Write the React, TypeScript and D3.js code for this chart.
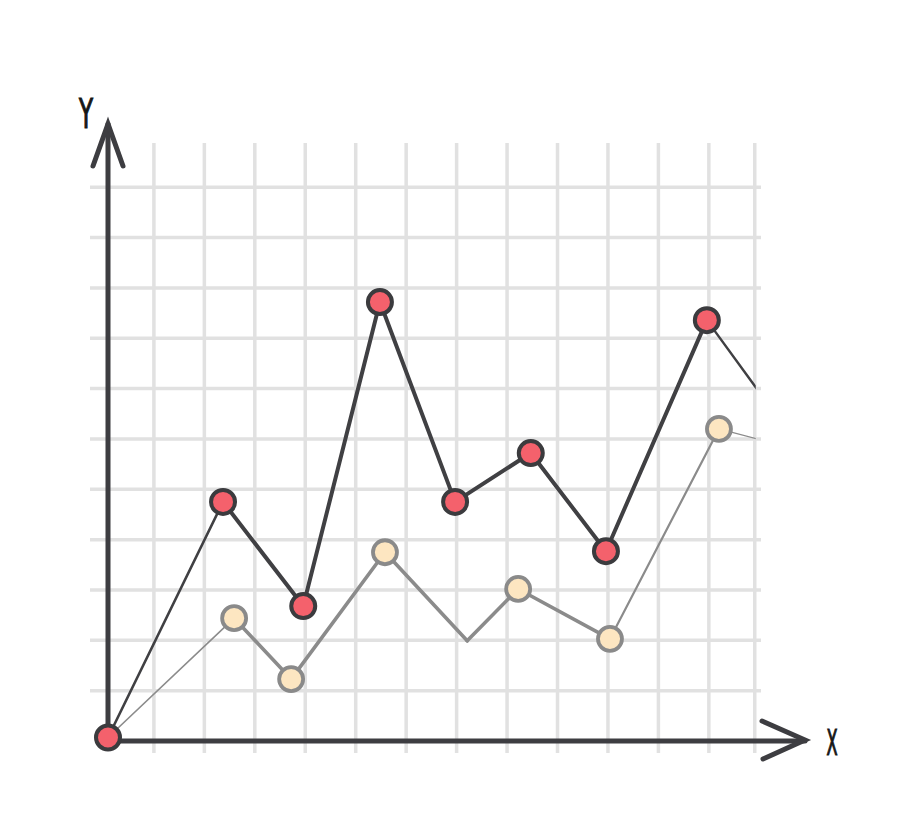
import React, { useEffect, useRef } from 'react';
import * as d3 from 'd3';

const WIDTH = 910;
const HEIGHT = 815;

// x / y values in grid units, origin at the axis corner
const redX = [0, 2.28, 3.87, 5.39, 6.88, 8.38, 9.87, 11.87, 13.2];
const redY = [0.07, 4.75, 2.68, 8.72, 4.75, 5.72, 3.77, 8.36, 6.53];
const creamX = [0, 2.5, 3.63, 5.49, 7.12, 8.13, 9.95, 12.11, 13.2];
const creamY = [0.07, 2.44, 1.23, 3.75, 1.99, 3.02, 2.03, 6.2, 5.91];
// which points carry a marker
const creamMarked = [false, true, true, true, false, true, true, true, false];
const redMarked = [true, true, true, true, true, true, true, true, false];

// grid lines (grid units)
const gridX = [0.91, 1.91, 2.91, 3.91, 4.91, 5.91, 6.91, 7.91, 8.91, 9.91, 10.91, 11.91, 12.82];
const gridY = [1, 2, 3, 4, 5, 6, 7, 8, 9, 10, 11];

class SketchChart {
  svg: any;

  constructor(containerEl: any) {
    this.svg = d3.select(containerEl).append('svg')
      .attr('width', WIDTH)
      .attr('height', HEIGHT)
      .style('position', 'absolute')
      .style('left', 0)
      .style('top', 0)
      .style('background', '#fff');
    this.draw();
  }

  draw = () => {
    const x = d3.scaleLinear().domain([0, 13]).range([108, 108 + 13 * 50.45]);
    const y = d3.scaleLinear().domain([0, 11]).range([741, 741 - 11 * 50.34]);
    const svg = this.svg;

    // grid
    const grid = svg.append('g').attr('stroke', '#e1e1e1').attr('stroke-width', 3.5);
    grid.selectAll('.gv').data(gridX).enter().append('line')
      .attr('x1', (d: number) => x(d)).attr('x2', (d: number) => x(d))
      .attr('y1', 143).attr('y2', 753);
    grid.selectAll('.gh').data(gridY).enter().append('line')
      .attr('x1', 90).attr('x2', 761)
      .attr('y1', (d: number) => y(d)).attr('y2', (d: number) => y(d));

    // clip lines at the grid's right edge
    svg.append('clipPath').attr('id', 'plotclip').append('rect')
      .attr('x', 0).attr('y', 0).attr('width', x(12.82) + 1).attr('height', HEIGHT);

    const drawSeries = (xs: number[], ys: number[], color: string, widths: number[]) => {
      const g = svg.append('g').attr('clip-path', 'url(#plotclip)');
      for (let i = 0; i < xs.length - 1; i++) {
        g.append('line')
          .attr('x1', x(xs[i])).attr('y1', y(ys[i]))
          .attr('x2', x(xs[i + 1])).attr('y2', y(ys[i + 1]))
          .attr('stroke', color)
          .attr('stroke-width', widths[i])
          .attr('stroke-linecap', 'round');
      }
    };

    drawSeries(creamX, creamY, '#8b8b8b', [1.6, 3.6, 3.6, 3.6, 3.6, 3.6, 2.2, 1.2]);
    drawSeries(redX, redY, '#404043', [2.6, 4, 4, 4, 4, 4, 4, 2.4]);

    // axes
    const axis = svg.append('g')
      .attr('stroke', '#3d3d41')
      .attr('stroke-width', 5)
      .attr('stroke-linecap', 'round')
      .attr('fill', 'none');
    axis.append('line').attr('x1', x(0)).attr('x2', x(0)).attr('y1', 124).attr('y2', y(0));
    axis.append('line').attr('x1', x(0)).attr('x2', 805).attr('y1', y(0)).attr('y2', y(0));
    axis.append('path').attr('d', 'M93,166 L108,124 L123,166').attr('stroke-linejoin', 'miter');
    axis.append('path').attr('d', 'M762,721 L805,740 L763,759').attr('stroke-linejoin', 'miter');

    // markers
    const creamPts = creamX.map((v, i) => ({ x: v, y: creamY[i], m: creamMarked[i] })).filter(d => d.m);
    svg.append('g').selectAll('circle').data(creamPts).enter().append('circle')
      .attr('cx', (d: any) => x(d.x)).attr('cy', (d: any) => y(d.y))
      .attr('r', 12)
      .attr('fill', '#fde6c1')
      .attr('stroke', '#8a8a8a')
      .attr('stroke-width', 3.8);

    const redPts = redX.map((v, i) => ({ x: v, y: redY[i], m: redMarked[i] })).filter(d => d.m);
    svg.append('g').selectAll('circle').data(redPts).enter().append('circle')
      .attr('cx', (d: any) => x(d.x)).attr('cy', (d: any) => y(d.y))
      .attr('r', 12)
      .attr('fill', '#f4616c')
      .attr('stroke', '#3b3b3e')
      .attr('stroke-width', 4);

    // axis labels
    svg.append('text')
      .attr('transform', 'translate(86,128) scale(0.62,1)')
      .attr('text-anchor', 'middle')
      .attr('font-family', '"DejaVu Sans Condensed", "DejaVu Sans", sans-serif')
      .attr('font-size', 41)
      .attr('fill', '#161616')
      .attr('stroke', '#161616')
      .attr('stroke-width', 1.2)
      .text('Y');
    svg.append('text')
      .attr('transform', 'translate(832,755) scale(0.5,1)')
      .attr('text-anchor', 'middle')
      .attr('font-family', '"DejaVu Sans Condensed", "DejaVu Sans", sans-serif')
      .attr('font-size', 36)
      .attr('fill', '#161616')
      .attr('stroke', '#161616')
      .attr('stroke-width', 1.2)
      .text('X');
  }
}

export default function App() {
  const ref = useRef<HTMLDivElement>(null);
  useEffect(() => {
    if (!ref.current) return;
    ref.current.innerHTML = '';
    new SketchChart(ref.current);
  }, []);
  return <div ref={ref} style={{ width: WIDTH, height: HEIGHT }} />;
}
